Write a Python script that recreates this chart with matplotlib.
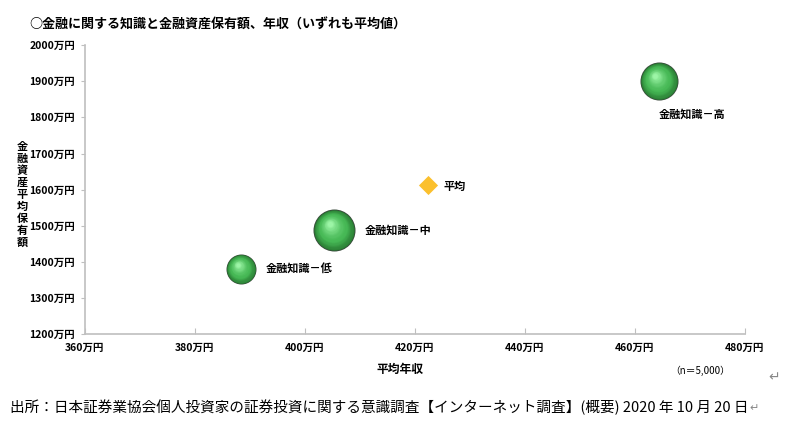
import numpy as np
import matplotlib
matplotlib.use('Agg')
import matplotlib.pyplot as plt
import matplotlib.transforms as mtransforms
from matplotlib.colors import to_rgb

plt.rcParams['font.family'] = ['Noto Sans CJK JP', 'DejaVu Sans']

# data
groups = ['金融知識－低', '金融知識－中', '金融知識－高']
income = [388.4, 405.3, 464.4]          # 平均年収 (万円)
assets = [1380, 1488, 1900]             # 金融資産平均保有額 (万円)
bubble_weight = [0.51, 1.0, 0.82]       # relative bubble area
avg_income = 422.4
avg_assets = 1612

x_ticks = [360, 380, 400, 420, 440, 460, 480]
y_ticks = [1200, 1300, 1400, 1500, 1600, 1700, 1800, 1900, 2000]

fig = plt.figure(figsize=(8, 4.3), dpi=100)
ax = fig.add_axes([0.106, 0.223, 0.825, 0.672])
ax.set_xlim(360, 480)
ax.set_ylim(1200, 2000)
ax.set_xticks(x_ticks)
ax.set_yticks(y_ticks)
ax.set_xticklabels([f'{v}万円' for v in x_ticks], fontsize=7.5, fontweight='bold')
ax.set_yticklabels([f'{v}万円' for v in y_ticks], fontsize=7.5, fontweight='bold')
for s in ['top', 'right']:
    ax.spines[s].set_visible(False)
for s in ['left', 'bottom']:
    ax.spines[s].set_color('#bfbfbf')
    ax.spines[s].set_linewidth(1.2)
ax.tick_params(axis='x', direction='in', length=4, color='#bfbfbf', pad=6)
ax.tick_params(axis='y', direction='out', length=3, color='#bfbfbf', pad=4)


def draw_sphere(ax, x, y, r_px, n=30):
    # stacked circles to fake a shaded green sphere
    dark = np.array(to_rgb('#2a7d34'))
    mid = np.array(to_rgb('#46b855'))
    light = np.array(to_rgb('#9cf5a6'))
    ax.scatter([x], [y], s=(2 * r_px * 0.72) ** 2, color='#3a4a3c', zorder=3, linewidths=0)
    for i in range(n):
        t = i / (n - 1)
        r = r_px * (0.96 - 0.84 * t)
        dx = -0.2 * r_px * t
        dy = 0.3 * r_px * t
        if t < 0.35:
            c = dark + (mid - dark) * (t / 0.35)
        else:
            c = mid + (light - mid) * ((t - 0.35) / 0.65) ** 1.5
        tr = mtransforms.offset_copy(ax.transData, fig=ax.figure, x=dx, y=dy, units='dots')
        ax.scatter([x], [y], s=(2 * r * 0.72) ** 2, color=c, zorder=4 + i * 0.01,
                   linewidths=0, transform=tr)


r_max = 21
for gx, gy, w in zip(income, assets, bubble_weight):
    draw_sphere(ax, gx, gy, r_max * np.sqrt(w))

ax.scatter([avg_income], [avg_assets], marker='D', s=95, color='#fbc02d', zorder=5, linewidths=0)

lab = dict(fontsize=8, fontweight='bold', va='center')
ax.annotate(groups[0], (income[0], assets[0]), xytext=(18, 0), textcoords='offset points', **lab)
ax.annotate(groups[1], (income[1], assets[1]), xytext=(22, 0), textcoords='offset points', **lab)
ax.annotate(groups[2], (income[2], assets[2]), xytext=(0, -24), textcoords='offset points', **lab)
ax.annotate('平均', (avg_income, avg_assets), xytext=(11, -1), textcoords='offset points', **lab)

fig.text(0.037, 0.942, '○金融に関する知識と金融資産保有額、年収（いずれも平均値）',
         fontsize=9.4, fontweight='bold', va='center')
fig.text(0.028, 0.548, '\n'.join('金融資産平均保有額'), fontsize=8, fontweight='bold',
         ha='center', va='center', linespacing=0.9)
fig.text(0.5, 0.141, '平均年収', fontsize=8.5, fontweight='bold', ha='center', va='center')
fig.text(0.875, 0.137, '（n＝5,000）', fontsize=7, ha='center', va='center')
fig.text(0.968, 0.122, '↵', fontsize=10, color='#888888', ha='center', va='center')
fig.text(0.012, 0.052,
         '出所：日本証券業協会個人投資家の証券投資に関する意識調査【インターネット調査】(概要) 2020 年 10 月 20 日',
         fontsize=10.5, va='center')
fig.text(0.937, 0.052, '↵', fontsize=8, color='#888888', va='center')

fig.savefig('out.png', dpi=100)
